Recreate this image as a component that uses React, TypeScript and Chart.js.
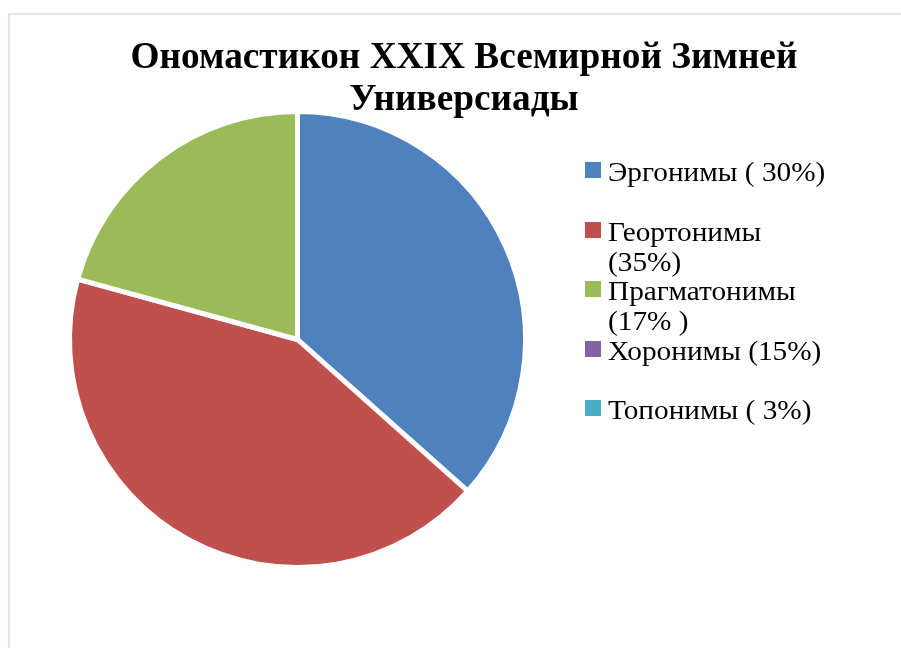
import React, { useEffect, useRef } from "react";
import { Chart, registerables } from "chart.js";

Chart.register(...registerables);

const titleLines = ["Ономастикон XXIX Всемирной Зимней", "Универсиады"];
const categories = [
  "Эргонимы ( 30%)",
  "Геортонимы (35%)",
  "Прагматонимы (17% )",
  "Хоронимы (15%)",
  "Топонимы ( 3%)",
];
const legendLines = [
  ["Эргонимы ( 30%)"],
  ["Геортонимы", "(35%)"],
  ["Прагматонимы", "(17% )"],
  ["Хоронимы (15%)"],
  ["Топонимы ( 3%)"],
];
const values = [30, 35, 17, 0, 0];
const colors = ["#4F81BD", "#C0504D", "#9BBB59", "#8064A2", "#4BACC6"];

const textPlugin = {
  id: "textPlugin",
  afterDraw(chart: any) {
    const ctx = chart.ctx as CanvasRenderingContext2D;
    ctx.save();
    ctx.fillStyle = "#000";
    ctx.textAlign = "center";
    ctx.textBaseline = "alphabetic";
    ctx.font = 'bold 37px "Liberation Serif", "Times New Roman", serif';
    titleLines.forEach((t, i) => {
      ctx.save();
      ctx.translate(464, 68 + i * 42);
      ctx.scale(1.008, 1);
      ctx.fillText(t, 0, 0);
      ctx.restore();
    });

    ctx.textAlign = "left";
    ctx.font = '27px "Liberation Serif", "Times New Roman", serif';
    const bgs = chart.data.datasets[0].backgroundColor as string[];
    legendLines.forEach((lines, i) => {
      const base = 181 + i * 59.5;
      ctx.fillStyle = bgs[i];
      ctx.fillRect(585, Math.round(base - 19), 16, 16);
      ctx.fillStyle = "#000";
      lines.forEach((l, j) => {
        ctx.save();
        ctx.translate(608, base + j * 30);
        ctx.scale(1.085, 1);
        ctx.fillText(l, 0, 0);
        ctx.restore();
      });
    });
    ctx.restore();
  },
};

export default function App() {
  const ref = useRef<HTMLCanvasElement | null>(null);
  useEffect(() => {
    if (!ref.current) return;
    const chart = new Chart(ref.current, {
      type: "pie",
      data: {
        labels: categories,
        datasets: [
          {
            data: values,
            backgroundColor: colors,
            borderColor: "#ffffff",
            borderWidth: 5,
          },
        ],
      },
      options: {
        responsive: false,
        animation: false,
        layout: { padding: { left: 67, right: 373, top: 100, bottom: 69 } },
        plugins: {
          legend: { display: false },
          title: { display: false },
          tooltip: { enabled: false },
        },
      },
      plugins: [textPlugin],
    });
    return () => chart.destroy();
  }, []);

  return (
    <div
      style={{
        position: "fixed",
        left: 0,
        top: 0,
        width: 901,
        height: 648,
        overflow: "hidden",
        background: "#fff",
      }}
    >
      <div
        style={{
          position: "absolute",
          left: 8,
          top: 13,
          width: 1200,
          height: 1000,
          borderTop: "2px solid #dce6f2",
          borderLeft: "2px solid #dce6f2",
        }}
      />
      <canvas
        ref={ref}
        width={901}
        height={648}
        style={{ position: "absolute", left: 0, top: 0, width: 901, height: 648 }}
      />
    </div>
  );
}
